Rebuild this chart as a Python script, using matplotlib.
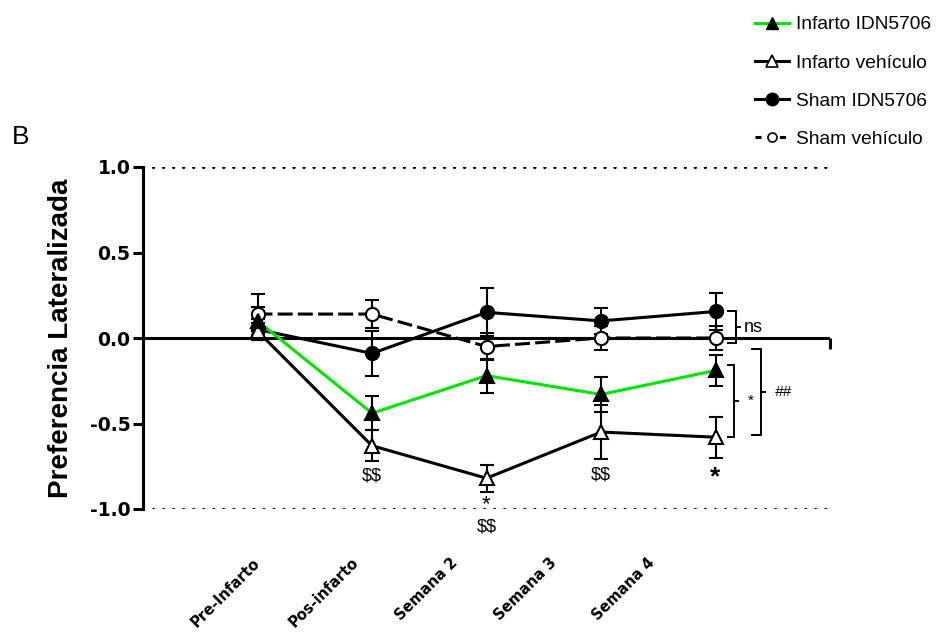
import matplotlib
matplotlib.use("Agg")
import matplotlib.pyplot as plt
from matplotlib.lines import Line2D
from matplotlib.transforms import ScaledTranslation

plt.rcParams['font.family'] = ['Liberation Sans', 'DejaVu Sans']
plt.rcParams['axes.unicode_minus'] = False

categories = ['Pre-Infarto', 'Pos-infarto', 'Semana 2', 'Semana 3', 'Semana 4']
y_ticks = [-1.0, -0.5, 0.0, 0.5, 1.0]

infarto_idn = [0.10, -0.44, -0.22, -0.33, -0.19]
infarto_idn_err = [0.08, 0.10, 0.10, 0.10, 0.09]
infarto_veh = [0.04, -0.63, -0.82, -0.55, -0.58]
infarto_veh_err = [0.05, 0.09, 0.08, 0.16, 0.12]
sham_idn = [0.05, -0.09, 0.15, 0.10, 0.155]
sham_idn_err = [0.06, 0.13, 0.14, 0.075, 0.11]
sham_veh = [0.14, 0.14, -0.05, 0.0, 0.0]
sham_veh_err = [0.12, 0.08, 0.08, 0.07, 0.07]

GREEN = '#00e600'
LW = 2.2
MS = 9.5
DASH = (0, (4.9, 1.7))

fig = plt.figure(figsize=(9.37, 6.37), dpi=100)
ax = fig.add_axes([143 / 937, 128 / 637, 687 / 937, 342 / 637])
ax.set_xlim(-1, 5)
ax.set_ylim(-1, 1)

x = list(range(len(categories)))

# reference lines
ax.axhline(0, color='black', lw=LW, zorder=1)
for yref in (1, -1):
    ax.axhline(yref, color='black', lw=2.4, ls=(0, (0.01, 3.0)),
               dash_capstyle='round', zorder=1)
ax.plot([1, 1], [0.5, 0.5 - 11 / 342], transform=ax.transAxes, color='black',
        lw=LW, clip_on=False, solid_capstyle='butt')

series = [
    (sham_veh, sham_veh_err, 'black', DASH, 'o', 'white'),
    (sham_idn, sham_idn_err, 'black', '-', 'o', 'black'),
    (infarto_veh, infarto_veh_err, 'black', '-', '^', 'white'),
    (infarto_idn, infarto_idn_err, GREEN, '-', '^', 'black'),
]
for k, (vals, err, col, ls, mk, fc) in enumerate(series):
    ax.errorbar(x, vals, yerr=err, fmt='none', ecolor='black', elinewidth=1.5,
                capsize=5, capthick=1.5, zorder=3 + k, clip_on=False)
    ax.plot(x, vals, color=col, lw=LW, ls=ls, zorder=3 + k, clip_on=False)
    ax.plot(x, vals, ls='none', marker=mk, ms=MS, mfc=fc, mec='black', mew=1.5,
            zorder=7 + k, clip_on=False)

# axes styling
for side in ('top', 'right', 'bottom'):
    ax.spines[side].set_visible(False)
ax.spines['left'].set_linewidth(LW)
ax.set_yticks(y_ticks)
ax.set_yticklabels([f'{v:.1f}' for v in y_ticks], family='DejaVu Sans',
                   fontweight='bold', fontsize=13.5)
ax.tick_params(axis='y', length=7, width=LW, pad=2)
ax.set_ylabel('Preferencia Lateralizada', fontsize=20, fontweight='bold', labelpad=11)

ax.set_xticks(x)
ax.set_xticklabels(categories, rotation=45, ha='right', va='center',
                   rotation_mode='anchor', fontsize=10.5, fontweight='bold',
                   family='DejaVu Sans')
ax.tick_params(axis='x', length=0, pad=37)
for i, lab in enumerate(ax.get_xticklabels()):
    lab.set_transform(lab.get_transform() +
                      ScaledTranslation(-0.157 * i, 0, fig.dpi_scale_trans))

# significance marks under the points
def mark(xi, y, text, dy, size, weight='normal'):
    ax.annotate(text, (xi, y), xytext=(0, dy), textcoords='offset points',
                ha='center', va='center', fontsize=size, fontweight=weight,
                parse_math=False, annotation_clip=False)

for i in (1, 3):
    mark(i, infarto_veh[i] - infarto_veh_err[i], '$$', -11, 13)
mark(2, infarto_veh[2] - infarto_veh_err[2], '*', -9, 16)
mark(2, infarto_veh[2] - infarto_veh_err[2], '$$', -25, 13)
mark(4, infarto_veh[4] - infarto_veh_err[4], '*', -14, 19, 'bold')

# brackets at the last time point
def bracket(y_top, y_bot, x0, x1, label, tx, size, style='normal'):
    ax.plot([x0, x1, x1, x0], [y_top, y_top, y_bot, y_bot], color='black',
            lw=1.4, clip_on=False, solid_joinstyle='miter')
    ym = (y_top + y_bot) / 2
    ax.plot([x1, x1 + 0.035], [ym, ym], color='black', lw=1.4, clip_on=False)
    ax.text(tx, ym, label, ha='left', va='center', fontsize=size,
            fontstyle=style, clip_on=False)

bracket(sham_idn[4] + 0.0, sham_veh[4] - 0.03, 4.105, 4.175, 'ns', 4.245, 13)
bracket(infarto_idn[4] + 0.03, infarto_veh[4], 4.105, 4.158, '*', 4.28, 11)
bracket(sham_veh[4] - 0.065, infarto_veh[4] + 0.01, 4.32, 4.40, '##', 4.52, 11, 'italic')

# legend
handles = [
    Line2D([], [], color=GREEN, lw=LW, marker='^', ms=8.5, mfc='black', mec='black'),
    Line2D([], [], color='black', lw=LW, marker='^', ms=8.5, mfc='white', mec='black', mew=1.2),
    Line2D([], [], color='black', lw=LW, marker='o', ms=9, mfc='black', mec='black'),
    Line2D([], [], color='black', lw=LW, ls=(0, (2, 2)), marker='o', ms=6.5,
           mfc='white', mec='black', mew=1.2),
]
labels = ['Infarto IDN5706', 'Infarto vehículo', 'Sham IDN5706', 'Sham vehículo']
fig.legend(handles, labels, loc='upper left', bbox_to_anchor=(755 / 937, 1 - 16 / 637),
           frameon=False, fontsize=13.8, handlelength=1.8, handletextpad=0.35,
           labelspacing=1.08, borderaxespad=0, borderpad=0)

fig.text(12 / 937, 1 - 137 / 637, 'B', fontsize=19, va='center', ha='left')

fig.savefig('out.png', dpi=100)
